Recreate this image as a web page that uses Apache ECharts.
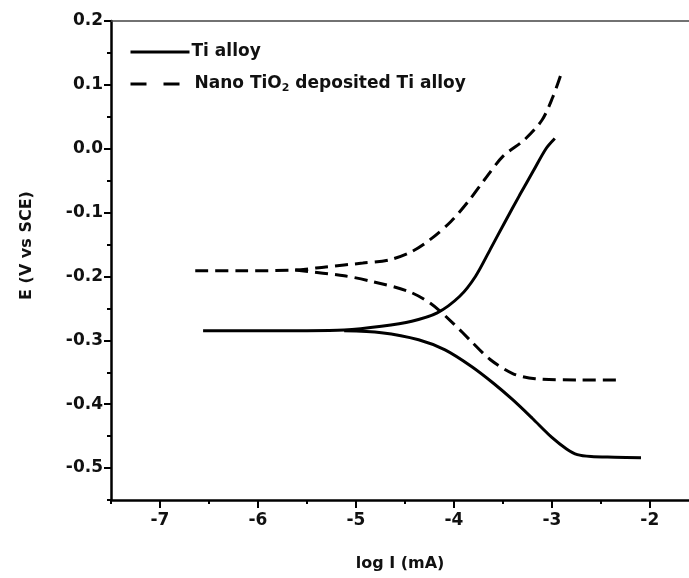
<!DOCTYPE html>
<html>
<head>
<meta charset="utf-8">
<script src="https://cdn.jsdelivr.net/npm/echarts@6/dist/echarts.min.js"></script>
<style>
html,body{margin:0;padding:0;background:#fff;}
#chart{width:689px;height:578px;}
</style>
</head>
<body>
<div id="chart"></div>
<script>
// ---- Data (log I in mA, E in V vs SCE) ----
const tiAlloyAnodic = [
  [-6.56,-0.285],[-6.0,-0.285],[-5.5,-0.285],[-5.12,-0.284],[-4.74,-0.278],
  [-4.43,-0.270],[-4.17,-0.257],[-3.94,-0.231],[-3.78,-0.200],[-3.63,-0.158],
  [-3.48,-0.115],[-3.33,-0.073],[-3.19,-0.035],[-3.06,0.000],[-2.97,0.016]
];
const tiAlloyCathodic = [
  [-5.12,-0.285],[-4.74,-0.288],[-4.36,-0.299],[-4.09,-0.315],[-3.82,-0.341],
  [-3.59,-0.368],[-3.40,-0.393],[-3.20,-0.422],[-3.00,-0.452],[-2.85,-0.470],
  [-2.74,-0.479],[-2.60,-0.482],[-2.36,-0.483],[-2.09,-0.484]
];
const nanoAnodic = [
  [-6.64,-0.191],[-6.2,-0.191],[-5.62,-0.190],[-5.31,-0.185],[-4.93,-0.179],
  [-4.66,-0.174],[-4.43,-0.161],[-4.24,-0.142],[-4.03,-0.114],[-3.84,-0.080],
  [-3.69,-0.049],[-3.50,-0.012],[-3.28,0.014],[-3.10,0.045],[-2.99,0.081],[-2.91,0.115]
];
const nanoCathodic = [
  [-5.62,-0.190],[-5.12,-0.199],[-4.86,-0.207],[-4.47,-0.223],[-4.24,-0.242],
  [-4.01,-0.273],[-3.82,-0.302],[-3.63,-0.330],[-3.40,-0.352],[-3.17,-0.360],
  [-2.71,-0.362],[-2.29,-0.362]
];
const xMajorTicks = [-7,-6,-5,-4,-3,-2];
const xMinorTicks = [-7.5,-6.5,-5.5,-4.5,-3.5,-2.5];
const yMajorTicks = [0.2,0.1,0.0,-0.1,-0.2,-0.3,-0.4,-0.5];
const yMinorTicks = [0.15,0.05,-0.05,-0.15,-0.25,-0.35,-0.45,-0.55];
const seriesNames = ['Ti alloy','Nano TiO2 deposited Ti alloy'];

const FONT = '"DejaVu Sans", "Liberation Sans", Arial, sans-serif';
const TXT = '#111';
const chart = echarts.init(document.getElementById('chart'), null, {renderer:'canvas'});

const gridRect = {left:111, right:0, top:21, bottom:78};
const xRange = {min:-7.5, max:-1.6};
const yRange = {min:-0.55, max:0.2};

const legendBase = {
  left:129, orient:'vertical', padding:0, itemWidth:59, itemHeight:14, selectedMode:false,
  itemStyle:{opacity:0, borderWidth:0}
};

const option = {
  backgroundColor:'#fff',
  animation:false,
  grid:[Object.assign({}, gridRect), Object.assign({}, gridRect)],
  legend:[
    Object.assign({}, legendBase, {
      data:[seriesNames[0]], top:42,
      lineStyle:{width:3, color:'#000', type:'solid'},
      textStyle:{fontFamily:FONT, fontWeight:'bold', fontSize:17, color:TXT, lineHeight:20, padding:[0,0,0,-3]}
    }),
    Object.assign({}, legendBase, {
      data:[seriesNames[1]], top:74,
      lineStyle:{width:3, color:'#000', type:[16,17]},
      formatter:function(){ return '{a|Nano TiO}{s|2}{a| deposited Ti alloy}'; },
      textStyle:{fontFamily:FONT, fontWeight:'bold', fontSize:17, color:TXT, lineHeight:20,
        rich:{
          a:{fontFamily:FONT, fontWeight:'bold', fontSize:17, color:TXT, lineHeight:20},
          s:{fontFamily:FONT, fontWeight:'bold', fontSize:11, color:TXT, lineHeight:11, verticalAlign:'bottom', padding:[8,0,0,0]}
        }}
    })
  ],
  xAxis:[
    {
      type:'value', gridIndex:0, position:'bottom', min:xRange.min, max:xRange.max, interval:0.5,
      axisLine:{show:true, onZero:false, lineStyle:{color:'#000', width:2.5}},
      axisTick:{show:true, inside:false, length:8, customValues:xMajorTicks, lineStyle:{color:'#000', width:2}},
      axisLabel:{show:true, customValues:xMajorTicks, margin:12, fontFamily:FONT, fontWeight:'bold', fontSize:17, color:TXT,
        formatter:function(v){ return String(v); }},
      splitLine:{show:false},
      name:'log I (mA)', nameLocation:'middle', nameGap:56,
      nameTextStyle:{fontFamily:FONT, fontWeight:'bold', fontSize:16, color:TXT}
    },
    {
      type:'value', gridIndex:0, position:'top', min:xRange.min, max:xRange.max, interval:0.5,
      axisLine:{show:true, onZero:false, lineStyle:{color:'#444', width:1.5}},
      axisTick:{show:false}, axisLabel:{show:false}, splitLine:{show:false}
    },
    {
      type:'value', gridIndex:1, position:'bottom', min:xRange.min, max:xRange.max, interval:0.5,
      axisLine:{show:false, onZero:false},
      axisTick:{show:true, length:4, customValues:xMinorTicks, lineStyle:{color:'#000', width:2}},
      axisLabel:{show:false}, splitLine:{show:false}
    }
  ],
  yAxis:[
    {
      type:'value', gridIndex:0, position:'left', min:yRange.min, max:yRange.max, interval:0.05,
      axisLine:{show:true, onZero:false, lineStyle:{color:'#000', width:2.5}},
      axisTick:{show:true, length:7, customValues:yMajorTicks, lineStyle:{color:'#000', width:2}},
      axisLabel:{show:true, customValues:yMajorTicks, margin:8, fontFamily:FONT, fontWeight:'bold', fontSize:17, color:TXT,
        formatter:function(v){ return (Math.abs(v) < 1e-9 ? 0 : v).toFixed(1); }},
      splitLine:{show:false},
      name:'E (V vs SCE)', nameLocation:'middle', nameGap:76, nameRotate:90,
      nameTextStyle:{fontFamily:FONT, fontWeight:'bold', fontSize:16, color:TXT, padding:[0,0,0,30]}
    },
    {
      type:'value', gridIndex:1, position:'left', min:yRange.min, max:yRange.max, interval:0.05,
      axisLine:{show:false, onZero:false},
      axisTick:{show:true, length:4, customValues:yMinorTicks, lineStyle:{color:'#000', width:2}},
      axisLabel:{show:false}, splitLine:{show:false}
    }
  ],
  series:[
    {name:seriesNames[0], type:'line', xAxisIndex:0, yAxisIndex:0, data:tiAlloyAnodic, symbol:'none', smooth:0.3,
      lineStyle:{color:'#000', width:3, type:'solid'}, itemStyle:{color:'#000'}},
    {name:seriesNames[0], type:'line', xAxisIndex:0, yAxisIndex:0, data:tiAlloyCathodic, symbol:'none', smooth:0.3,
      lineStyle:{color:'#000', width:3, type:'solid'}, itemStyle:{color:'#000'}},
    {name:seriesNames[1], type:'line', xAxisIndex:0, yAxisIndex:0, data:nanoAnodic, symbol:'none', smooth:0.3,
      lineStyle:{color:'#000', width:3, type:[13,7]}, itemStyle:{color:'#000'}},
    {name:seriesNames[1], type:'line', xAxisIndex:0, yAxisIndex:0, data:nanoCathodic, symbol:'none', smooth:0.3,
      lineStyle:{color:'#000', width:3, type:[13,7]}, itemStyle:{color:'#000'}}
  ]
};
chart.setOption(option);
</script>
</body>
</html>
